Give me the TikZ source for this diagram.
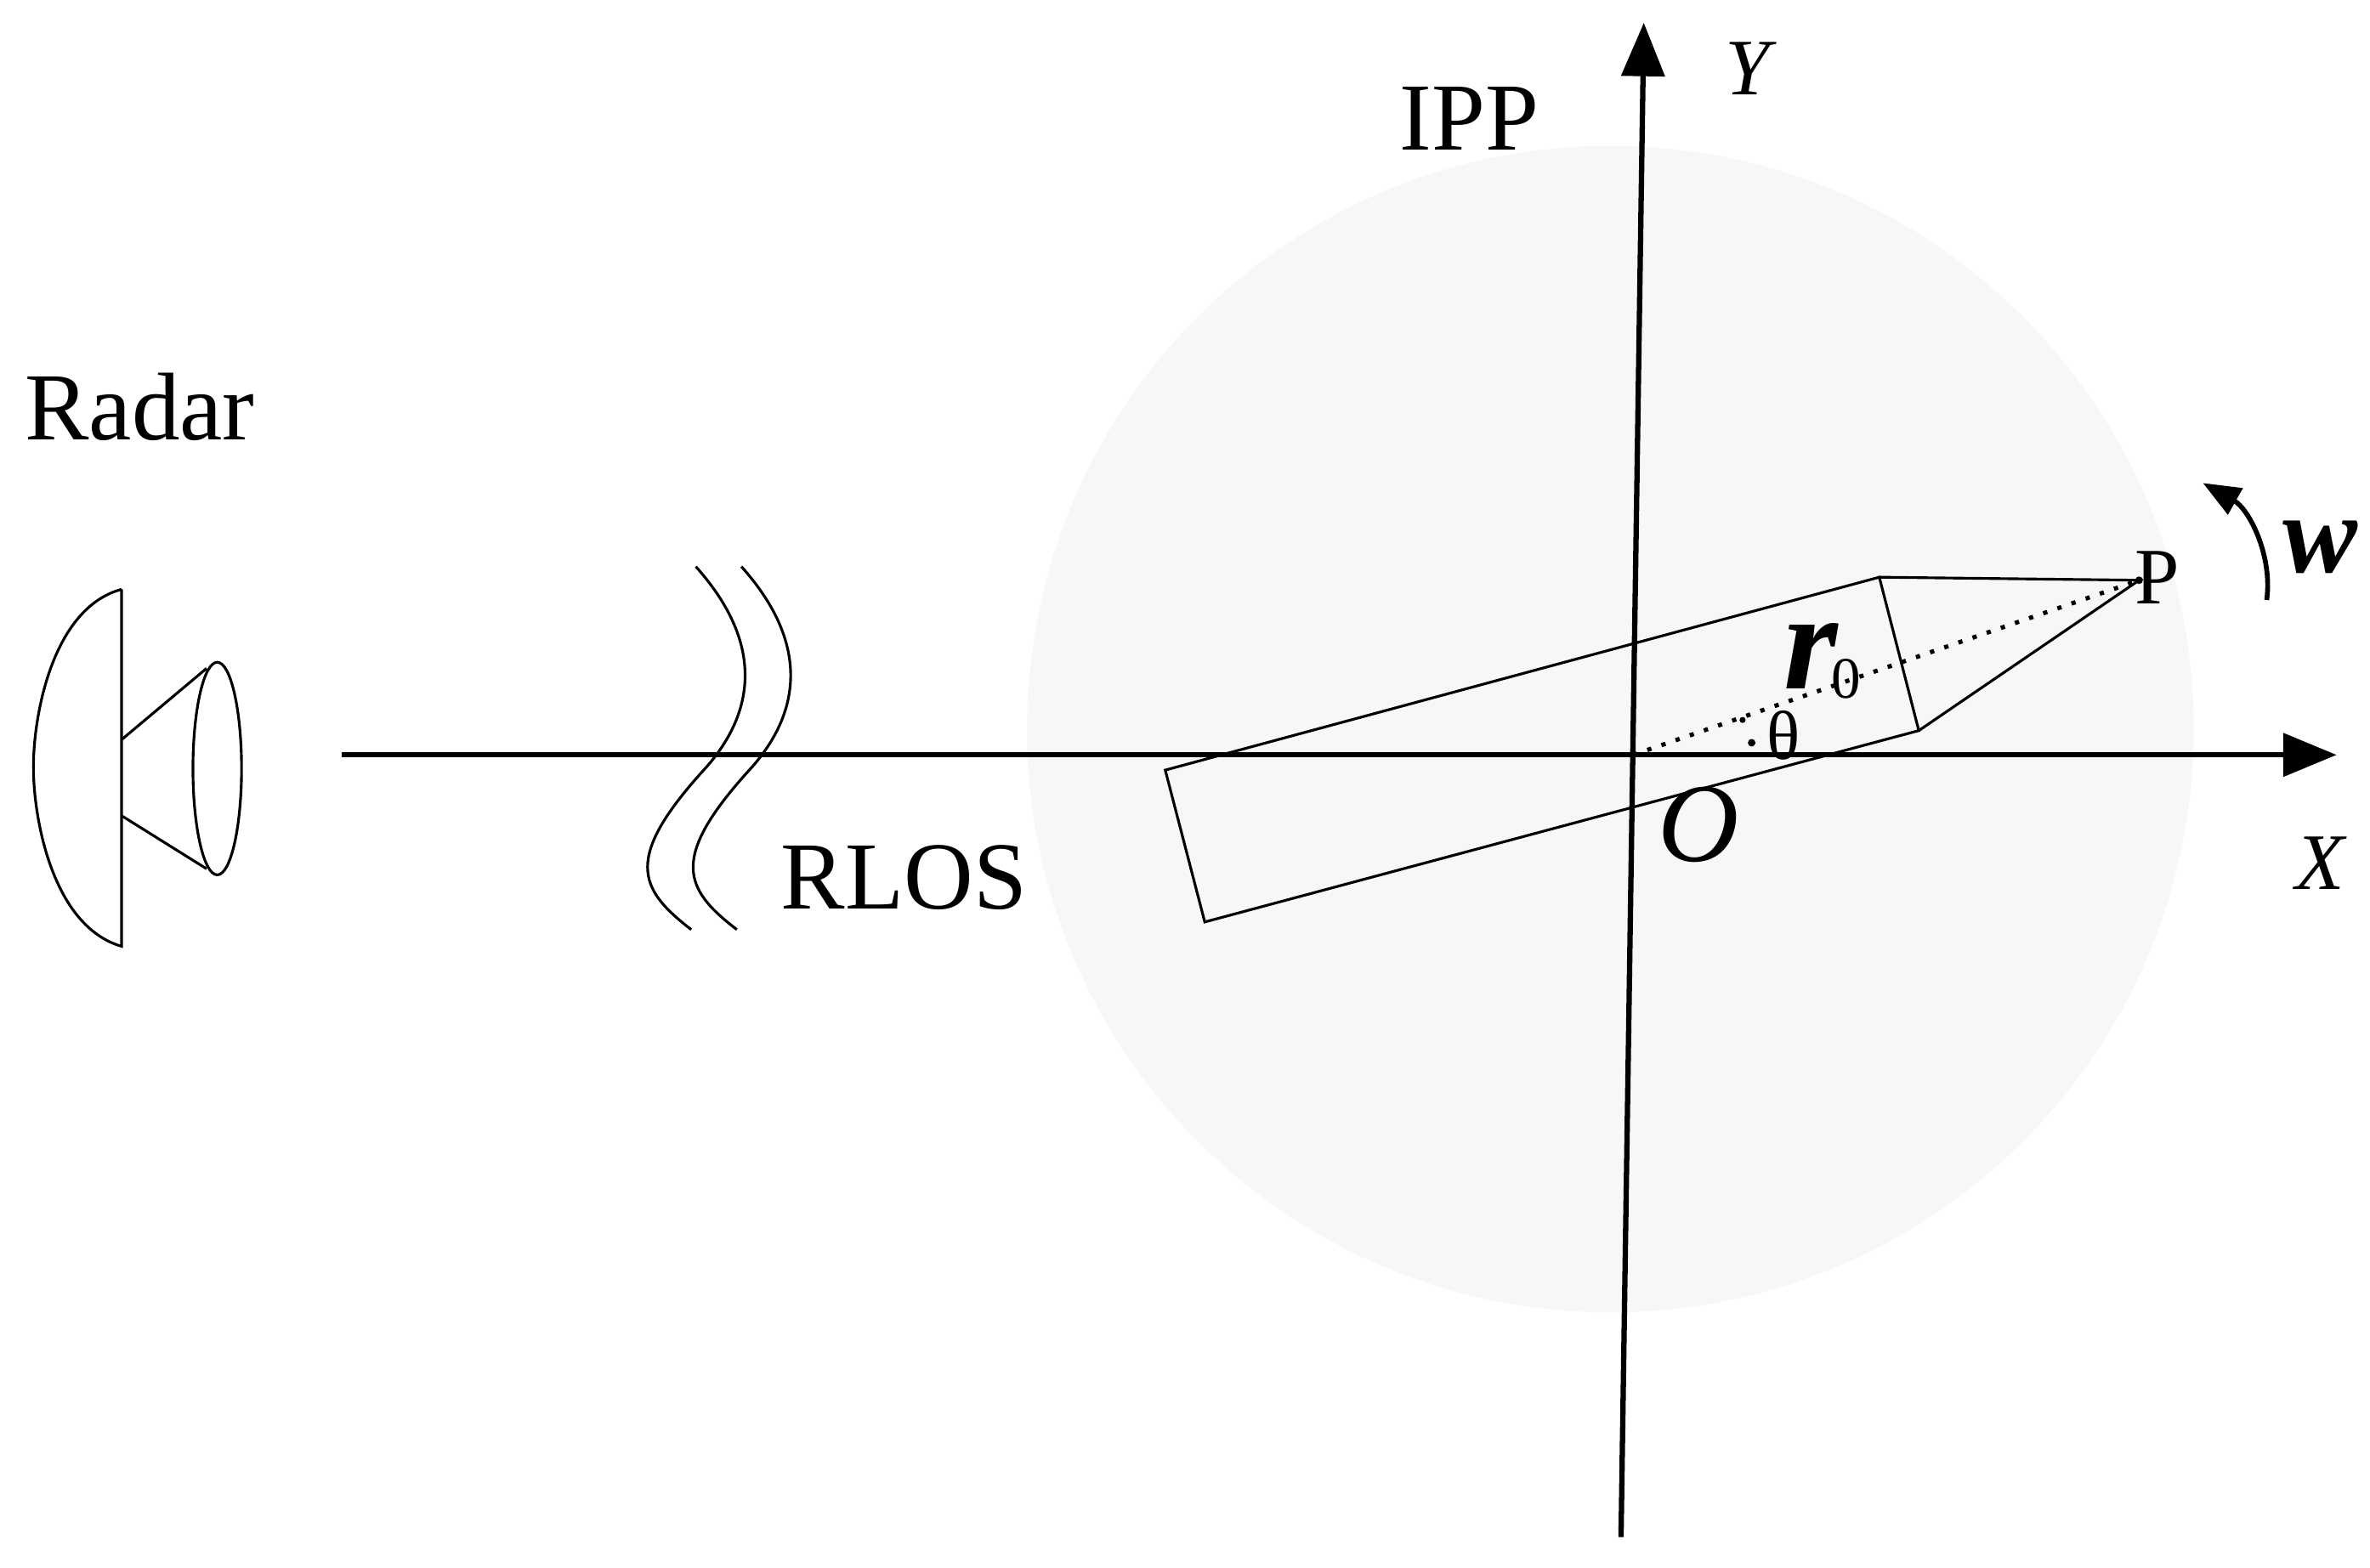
\documentclass[tikz,border=0pt]{standalone}
\usepackage{fontspec}
\setmainfont{Liberation Serif}
\usetikzlibrary{arrows.meta}
\begin{document}
\begin{tikzpicture}[x=0.01cm,y=-0.01cm,
  thin/.style={line width=0.5pt},
  axis/.style={line width=1pt,-{Triangle[length=10pt,width=8pt]}},
  lbl/.style={font=\fontsize{15}{17}\selectfont,inner sep=0pt}]
\useasboundingbox (0,0) rectangle (1560,1032);
\fill[gray!6] (1060,480) circle[radius=384];
% radar
\draw[thin] (80,388) -- (80,623) .. controls (35,610) and (22,540) .. (22,505) .. controls (22,470) and (35,400) .. (80,388);
\draw[thin] (80,487) -- (136,440) (80,537) -- (136,572);
\draw[thin] (143,506) ellipse[x radius=16,y radius=70];
% waves
\draw[thin] (458,373) .. controls (500,420) and (500,465) .. (465,505) .. controls (410,565) and (420,585) .. (455,612);
\draw[thin] (488,373) .. controls (530,420) and (530,465) .. (495,505) .. controls (440,565) and (450,585) .. (485,612);
% axes
\coordinate (O) at (1075,497);
\coordinate (xs) at (225,497);
\coordinate (xe) at (1538,497);
\coordinate (ys) at (1067,1012);
\coordinate (ye) at (1082,15);
\draw[axis] (xs) -- (xe);
\draw[axis] (ys) -- (ye);
% target
\coordinate (A) at (767,507);
\coordinate (B) at (1237,380);
\coordinate (C) at (1263,481);
\coordinate (D) at (793,607);
\coordinate (P) at (1408,382);
\draw[thin] (A) -- (B) -- (C) -- (D) -- cycle;
\draw[thin] (B) -- (P) -- (C);
\draw[line width=0.8pt,dotted] (O) -- (P);
\fill (P) circle[radius=2.5];
\fill (1147,474) circle[radius=2] (1153,489) circle[radius=2.5];
% rotation arrow
\draw[line width=0.9pt,-{Triangle[length=7pt,width=5.5pt]}] (1492,395) .. controls (1496,365) and (1480,335) .. (1450,318);
% labels
\node[lbl,font=\fontsize{18}{20}\selectfont] (radar) at (92,268) {Radar};
\node[lbl,font=\fontsize{18}{20}\selectfont] (rlos) at (595,578) {RLOS};
\node[lbl,font=\fontsize{18}{20}\selectfont] (ipp) at (967,78) {IPP};
\node[lbl] (ly) at (1150,45) {\itshape Y};
\node[lbl] (lx) at (1527,568) {\itshape X};
\node[lbl,font=\fontsize{21}{23}\selectfont] (lo) at (1118,543) {\itshape O};
\node[lbl,font=\fontsize{15}{17}\selectfont] (lp) at (1420,380) {P};
\node[lbl,font=\fontsize{26}{28}\selectfont] (lr) at (1192,432) {\bfseries\itshape r};
\node[lbl,font=\fontsize{11}{13}\selectfont] (l0) at (1215,447) {0};
\node[lbl,font=\fontsize{13}{15}\selectfont] (lt) at (1174,484) {θ};
\node[lbl,font=\fontsize{21}{23}\selectfont] (lw) at (1527,360) {\bfseries\itshape w};
\end{tikzpicture}
\end{document}
